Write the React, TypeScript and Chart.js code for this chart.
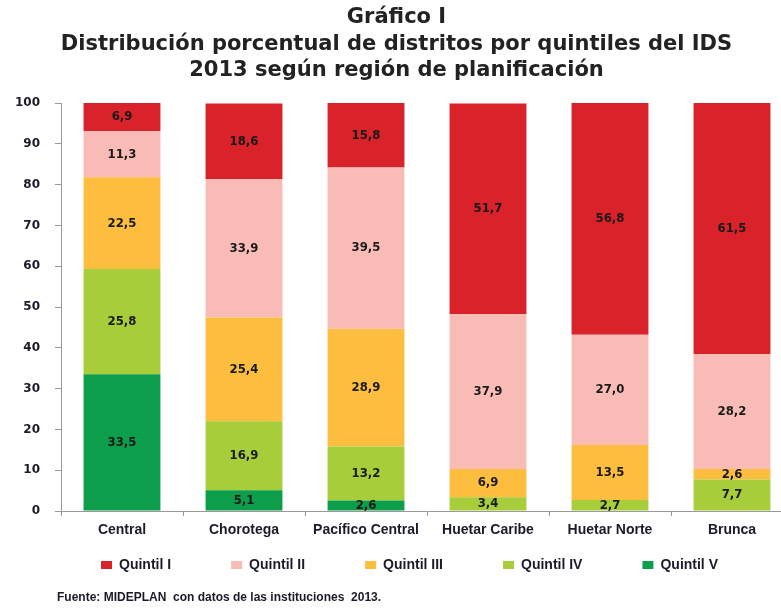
import React, { useEffect, useRef } from "react";
import { Chart, registerables } from "chart.js";

Chart.register(...registerables);

const categories = ["Central", "Chorotega", "Pacífico Central", "Huetar Caribe", "Huetar Norte", "Brunca"];
const seriesNames = ["Quintil I", "Quintil II", "Quintil III", "Quintil IV", "Quintil V"];
const quintilI = [6.9, 18.6, 15.8, 51.7, 56.8, 61.5];
const quintilII = [11.3, 33.9, 39.5, 37.9, 27.0, 28.2];
const quintilIII = [22.5, 25.4, 28.9, 6.9, 13.5, 2.6];
const quintilIV = [25.8, 16.9, 13.2, 3.4, 2.7, 7.7];
const quintilV = [33.5, 5.1, 2.6, 0, 0, 0];
const yTicks = [0, 10, 20, 30, 40, 50, 60, 70, 80, 90, 100];
const titleLines = [
  "Gráfico I",
  "Distribución porcentual de distritos por quintiles del IDS",
  "2013 según región de planificación",
];
const sourceNote = "Fuente: MIDEPLAN  con datos de las instituciones  2013.";

const colors = ["#D9222A", "#F9BBB6", "#FDBE3F", "#A7CD3A", "#0C9E4A"];

const X_SCALE_HEIGHT = 30;
const LEGEND_HEIGHT = 40;
const LEGEND_PAD = 60;
const LEGEND_FONT = 14;
const LEGEND_CENTER_Y = 565;

const valueLabels = {
  id: "valueLabels",
  afterDatasetsDraw(chart: any) {
    const ctx = chart.ctx;
    ctx.save();
    ctx.font = "bold 13px 'DejaVu Sans Condensed', 'DejaVu Sans', sans-serif";
    ctx.fillStyle = "#1a1a1a";
    ctx.textAlign = "center";
    ctx.textBaseline = "middle";
    chart.data.datasets.forEach((ds: any, di: number) => {
      const meta = chart.getDatasetMeta(di);
      meta.data.forEach((el: any, i: number) => {
        const v = ds.data[i];
        if (!v) return;
        const y = (el.y + el.base) / 2;
        ctx.fillText(v.toFixed(1).replace(".", ","), el.x, y);
      });
    });
    ctx.restore();
  },
};

const legendPlace = {
  id: "legendPlace",
  afterLayout(chart: any) {
    const l = chart.legend;
    if (!l) return;
    l.top = LEGEND_CENTER_Y - LEGEND_PAD - LEGEND_FONT / 2;
    l.bottom = chart.height;
    l.height = l.bottom - l.top;
    l.left += 13;
    l.right += 13;
  },
};

const footNote = {
  id: "footNote",
  afterDraw(chart: any) {
    const ctx = chart.ctx;
    ctx.save();
    ctx.font = "bold 12px 'Liberation Sans', Arial, sans-serif";
    ctx.fillStyle = "#1a1a2a";
    ctx.textAlign = "left";
    ctx.textBaseline = "middle";
    ctx.fillText(sourceNote, 57, 598);
    ctx.restore();
  },
};

export default function App() {
  const ref = useRef<HTMLCanvasElement | null>(null);

  useEffect(() => {
    if (!ref.current) return;
    const data = [quintilI, quintilII, quintilIII, quintilIV, quintilV];
    const datasets = [4, 3, 2, 1, 0].map((k) => ({
      label: seriesNames[k],
      data: data[k],
      backgroundColor: colors[k],
      borderWidth: 0,
      barPercentage: 0.63,
      categoryPercentage: 1,
    }));
    const chart = new Chart(ref.current, {
      type: "bar",
      data: { labels: categories, datasets },
      plugins: [valueLabels, legendPlace, footNote],
      options: {
        responsive: false,
        animation: false,
        layout: { padding: { left: 0, right: 7, top: 0, bottom: 608 - 511 - X_SCALE_HEIGHT - LEGEND_HEIGHT } },
        plugins: {
          tooltip: { enabled: false },
          title: {
            display: true,
            text: titleLines,
            color: "#222",
            font: { family: "'DejaVu Sans', sans-serif", size: 21, weight: "bold", lineHeight: 1.262 },
            padding: { top: 4.5, bottom: 19 },
          },
          legend: {
            display: true,
            position: "bottom",
            reverse: true,
            maxHeight: LEGEND_HEIGHT,
            labels: {
              boxWidth: 11,
              boxHeight: 8,
              padding: LEGEND_PAD,
              color: "#1a1a2a",
              font: { family: "'Liberation Sans', Arial, sans-serif", size: LEGEND_FONT, weight: "bold" },
            },
          },
        },
        scales: {
          x: {
            stacked: true,
            grid: { drawOnChartArea: false, drawTicks: true, tickLength: 5, color: "#999" },
            border: { display: true, color: "#999" },
            ticks: {
              color: "#1a1a2a",
              padding: 6,
              autoSkip: false,
              maxRotation: 0,
              font: { family: "'Liberation Sans', Arial, sans-serif", size: 14, weight: "bold" },
            },
            afterFit(s: any) {
              s.height = X_SCALE_HEIGHT;
            },
          },
          y: {
            stacked: true,
            min: 0,
            max: 100,
            afterBuildTicks(s: any) {
              s.ticks = yTicks.map((v) => ({ value: v }));
            },
            grid: { drawOnChartArea: false, drawTicks: true, tickLength: 6, color: "#999" },
            border: { display: true, color: "#999" },
            ticks: {
              color: "#1a1a2a",
              padding: 15,
              font: { family: "'DejaVu Sans', sans-serif", size: 12, weight: "bold" },
            },
            afterFit(s: any) {
              s.width = 61;
            },
          },
        },
      },
    });
    return () => chart.destroy();
  }, []);

  return (
    <div style={{ position: "absolute", left: 0, top: 0, width: 781, height: 608, overflow: "hidden", background: "#fff" }}>
      <canvas ref={ref} width={800} height={608} style={{ width: 800, height: 608, display: "block" }} />
    </div>
  );
}
